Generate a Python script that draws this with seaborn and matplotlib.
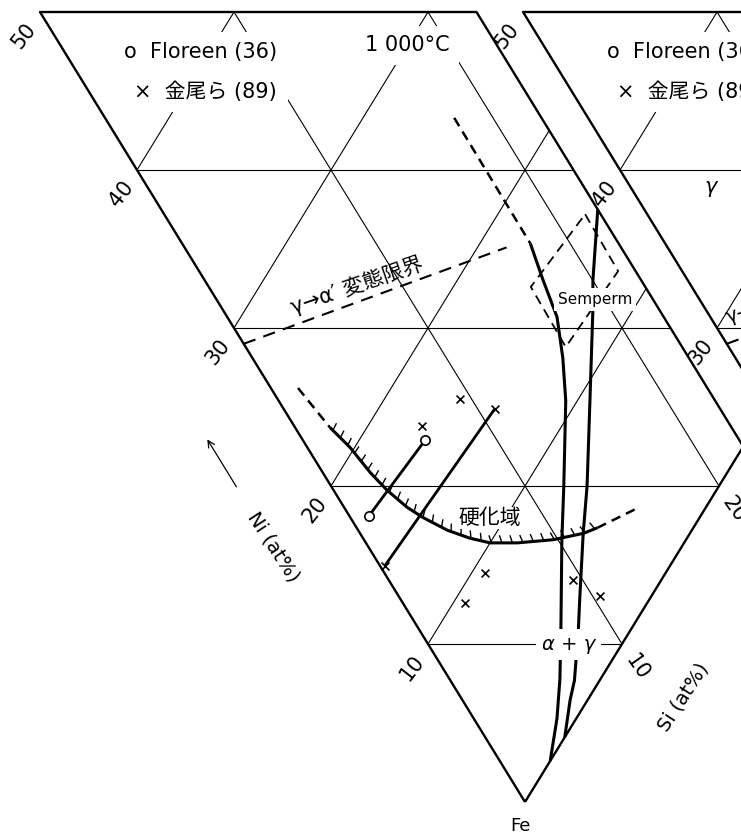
import numpy as np
import matplotlib
matplotlib.use("Agg")
import matplotlib.pyplot as plt
import seaborn as sns
from matplotlib.patches import Polygon
from matplotlib.collections import LineCollection

# compositions, in at% (Fe = balance)
# gamma / (alpha+gamma) boundary, left branch (dashed part then solid part)
bnd_left_dash_ni = [25.3, 17.4]
bnd_left_dash_si = [18.0, 17.95]
bnd_left_ni = [17.4, 15.6, 13.7, 12.1, 10.6, 8.0, 6.4, 3.6, 2.1, 1.0, 0.0]
bnd_left_si = [17.95, 17.45, 17.0, 16.0, 14.8, 12.0, 10.2, 7.3, 5.7, 4.3, 2.6]
# right branch
bnd_right_ni = [15.0, 13.0, 12.1, 9.4, 6.8, 5.5, 3.65, 2.7, 1.3, 0.9, 0.0]
bnd_right_si = [22.5, 20.0, 19.1, 16.1, 13.2, 11.5, 9.3, 8.2, 6.4, 5.55, 4.1]
# gamma -> alpha' transformation limit
trans_ni = [29.0, 18.5]
trans_si = [0.0, 16.6]
# hardening region boundary
hard_ni = [21.9, 20.25, 18.4, 17.0, 15.4, 14.25, 12.6, 11.2, 10.0, 8.6, 6.85, 5.5, 4.95]
hard_si = [1.8, 2.2, 2.45, 2.75, 3.25, 3.75, 4.6, 5.5, 6.4, 7.8, 9.75, 11.5, 12.4]
hard_left_ni = [24.8, 21.9]
hard_left_si = [1.4, 1.8]
hard_right_ni = [4.95, 3.5]
hard_right_si = [12.4, 15.1]
# Semperm composition window
semperm_ni = [15.5, 12.0, 12.3, 16.0, 15.5]
semperm_si = [21.7, 21.6, 16.5, 16.6, 21.7]
# Floreen (36)
floreen_ni = [16.6, 17.1]
floreen_si = [6.3, 1.0]
# Kanao et al. (89)
kanao_ni = [17.2, 16.1, 14.0, 14.7, 9.3, 9.4, 4.55, 2.65]
kanao_si = [6.6, 9.4, 10.9, 0.25, 5.2, 3.2, 9.5, 10.4]
kanao_tie = [2, 3]

grid_vals = [10, 20, 30, 40]
edge_vals = [10, 20, 30, 40, 50]
top_sum = 50
si_cut = 22.5

# page geometry (pixels)
W, H = 741, 838
FE = (525, 802)
PX, PY = 9.7, 15.8
DX2 = 49.8   # the next diagram on the page, cut off on the right

sns.set_theme(style="white")
plt.rcParams['font.family'] = ['DejaVu Sans', 'Noto Sans CJK JP']
plt.rcParams['text.color'] = 'black'
plt.rcParams['lines.scale_dashes'] = False
plt.rcParams['lines.solid_capstyle'] = 'butt'

fig = plt.figure(figsize=(W / 100, H / 100), dpi=100)
ax = fig.add_axes([0, 0, 1, 1])
ax.set_xlim(-FE[0] / PX, (W - FE[0]) / PX)
ax.set_ylim((FE[1] - H) / PY, FE[1] / PY)


def tern(ni, si, dx=0.0):
    ni = np.asarray(ni, float)
    si = np.asarray(si, float)
    return si - ni + dx, si + ni


def line(ni, si, dx=0.0, clip=None, lw=1.0, ls='-', z=2):
    x, y = tern(ni, si, dx)
    sns.lineplot(x=x, y=y, sort=False, estimator=None, ax=ax, color='black',
                 lw=lw, linestyle=ls, legend=False, zorder=z)
    ln = ax.lines[-1]
    if clip is not None:
        ln.set_clip_path(clip)
    return ln


def label(ni, si, s, dx=0.0, **kw):
    x, y = tern(ni, si, dx)
    kw.setdefault('zorder', 6)
    kw.setdefault('color', 'black')
    return ax.text(float(x), float(y), s, **kw)


def white(pad):
    return dict(boxstyle='square,pad=%s' % pad, fc='white', ec='none')


def frame(dx, outline_ni, outline_si):
    px, py = tern(outline_ni, outline_si, dx)
    clip = Polygon(np.column_stack([px, py]), closed=True, transform=ax.transData)
    for v in grid_vals:
        line([v, 0], [0, v], dx, clip, lw=0.8, z=1)
        line([v, v], [0, top_sum - v], dx, clip, lw=0.8, z=1)
        line([0, top_sum - v], [v, v], dx, clip, lw=0.8, z=1)
    line(outline_ni, outline_si, dx, lw=1.7, z=2)
    for v in edge_vals:
        x, y = tern(v, 0, dx)
        ax.annotate(str(v), xy=(float(x), float(y)), xytext=(-11.5, -17),
                    textcoords='offset points', ha='center', va='center',
                    rotation=52, fontsize=15, zorder=6, color='black')
        if v < top_sum:
            x, y = tern(0, v, dx)
            ax.annotate(str(v), xy=(float(x), float(y)), xytext=(11, -17),
                        textcoords='offset points', ha='center', va='center',
                        rotation=-55, fontsize=15, zorder=6, color='black')
    label(36.5, 10.95, "o  Floreen (36)", dx, ha='right', va='center',
          fontsize=15, bbox=white(0.5))
    label(35.25, 9.7, "×  金尾ら (89)", dx, ha='right', va='center',
          fontsize=15, bbox=white(0.5))


# main diagram (1000 C) and the neighbouring one
frame(0.0, [0, top_sum, top_sum - si_cut, 0, 0], [0, 0, si_cut, si_cut, 0])
frame(DX2, [0, top_sum, 0, 0], [0, 0, top_sum, 0])

# phase boundaries
line(bnd_left_dash_ni, bnd_left_dash_si, lw=1.8, ls=(0, (7, 4.5)), z=3)
line(bnd_left_ni, bnd_left_si, lw=2.2, z=3)
line(bnd_right_ni, bnd_right_si, lw=2.2, z=3)
line(trans_ni, trans_si, lw=1.5, ls=(0, (9, 6)), z=3)
line(trans_ni, trans_si, DX2, lw=1.5, ls=(0, (9, 6)), z=3)
line(semperm_ni, semperm_si, lw=1.3, ls=(0, (7, 4.5)), z=3)

# hardening region with hatch
line(hard_ni, hard_si, lw=2.2, z=3)
line(hard_left_ni, hard_left_si, lw=1.8, ls=(0, (7, 4.5)), z=3)
line(hard_right_ni, hard_right_si, lw=1.8, ls=(0, (7, 4.5)), z=3)

hx, hy = tern(hard_ni, hard_si)
qx, qy = hx * PX, hy * PY
seg = np.hypot(np.diff(qx), np.diff(qy))
s = np.concatenate([[0], np.cumsum(seg)])
at = np.arange(4, s[-1] - 2, 10.5)
idx = np.clip(np.searchsorted(s, at) - 1, 0, len(seg) - 1)
tx, ty = np.diff(qx)[idx] / seg[idx], np.diff(qy)[idx] / seg[idx]
nx, ny = -ty, tx
a = np.deg2rad(18)
nx, ny = nx * np.cos(a) - ny * np.sin(a), nx * np.sin(a) + ny * np.cos(a)
bx, by = np.interp(at, s, qx), np.interp(at, s, qy)
segs = [[(x0 / PX, y0 / PY), ((x0 + 8 * u) / PX, (y0 + 8 * v) / PY)]
        for x0, y0, u, v in zip(bx, by, nx, ny)]
ax.add_collection(LineCollection(segs, colors='black', lw=1.0, zorder=3))

# tie lines and data points
line(floreen_ni, floreen_si, lw=2.0, z=3)
line(np.take(kanao_ni, kanao_tie), np.take(kanao_si, kanao_tie), lw=2.0, z=3)
fx, fy = tern(floreen_ni, floreen_si)
sns.scatterplot(x=fx, y=fy, marker='o', s=45, color='white', edgecolor='black',
                linewidth=1.2, zorder=5, ax=ax, legend=False)
kx, ky = tern(kanao_ni, kanao_si)
sns.scatterplot(x=kx, y=ky, marker='x', s=32, color='black', linewidth=1.2,
                zorder=5, ax=ax, legend=False)

# labels
label(30.0, 17.9, "1 000°C", ha='center', va='center', fontsize=15, bbox=white(0.45))
label(25.0, 7.7, "γ→α′ 変態限界", ha='center', va='center', fontsize=15,
      rotation=19, rotation_mode='anchor')
label(12.3, 19.5, "Semperm", ha='center', va='center', fontsize=11, bbox=white(0.25))
label(10.8, 7.2, "硬化域", ha='center', va='center', fontsize=15, bbox=white(0.05))
label(2.75, 7.2, "α + γ", ha='center', va='center', fontsize=14, style='italic',
      bbox=white(0.3))
label(34.8, 4.1, "γ", DX2, ha='center', va='center', fontsize=15, style='italic')
label(29.8, 0.83, "γ→α′", DX2, ha='left', va='center', fontsize=14,
      rotation=19, rotation_mode='anchor')

fx0, fy0 = tern(0, 0)
ax.annotate("Fe", xy=(float(fx0), float(fy0)), xytext=(-3, -17),
            textcoords='offset points', ha='center', va='center', fontsize=13,
            color='black')

label(21.06, -4.92, "Ni (at%)", ha='center', va='center', fontsize=14, rotation=-57)
label(-4.82, 11.47, "Si (at%)", ha='center', va='center', fontsize=14, rotation=57)
ax.annotate('', xy=tuple(map(float, tern(28.0, -4.9))),
            xytext=tuple(map(float, tern(24.7, -4.9))),
            arrowprops=dict(arrowstyle='->', lw=0.9, color='black'))
ax.annotate('', xy=tuple(map(float, tern(-4.65, 17.7))),
            xytext=tuple(map(float, tern(-4.65, 14.7))),
            arrowprops=dict(arrowstyle='->', lw=0.9, color='black'))

ax.set_xlim(-FE[0] / PX, (W - FE[0]) / PX)
ax.set_ylim((FE[1] - H) / PY, FE[1] / PY)
ax.set_axis_off()
fig.savefig("out.png", dpi=100)
